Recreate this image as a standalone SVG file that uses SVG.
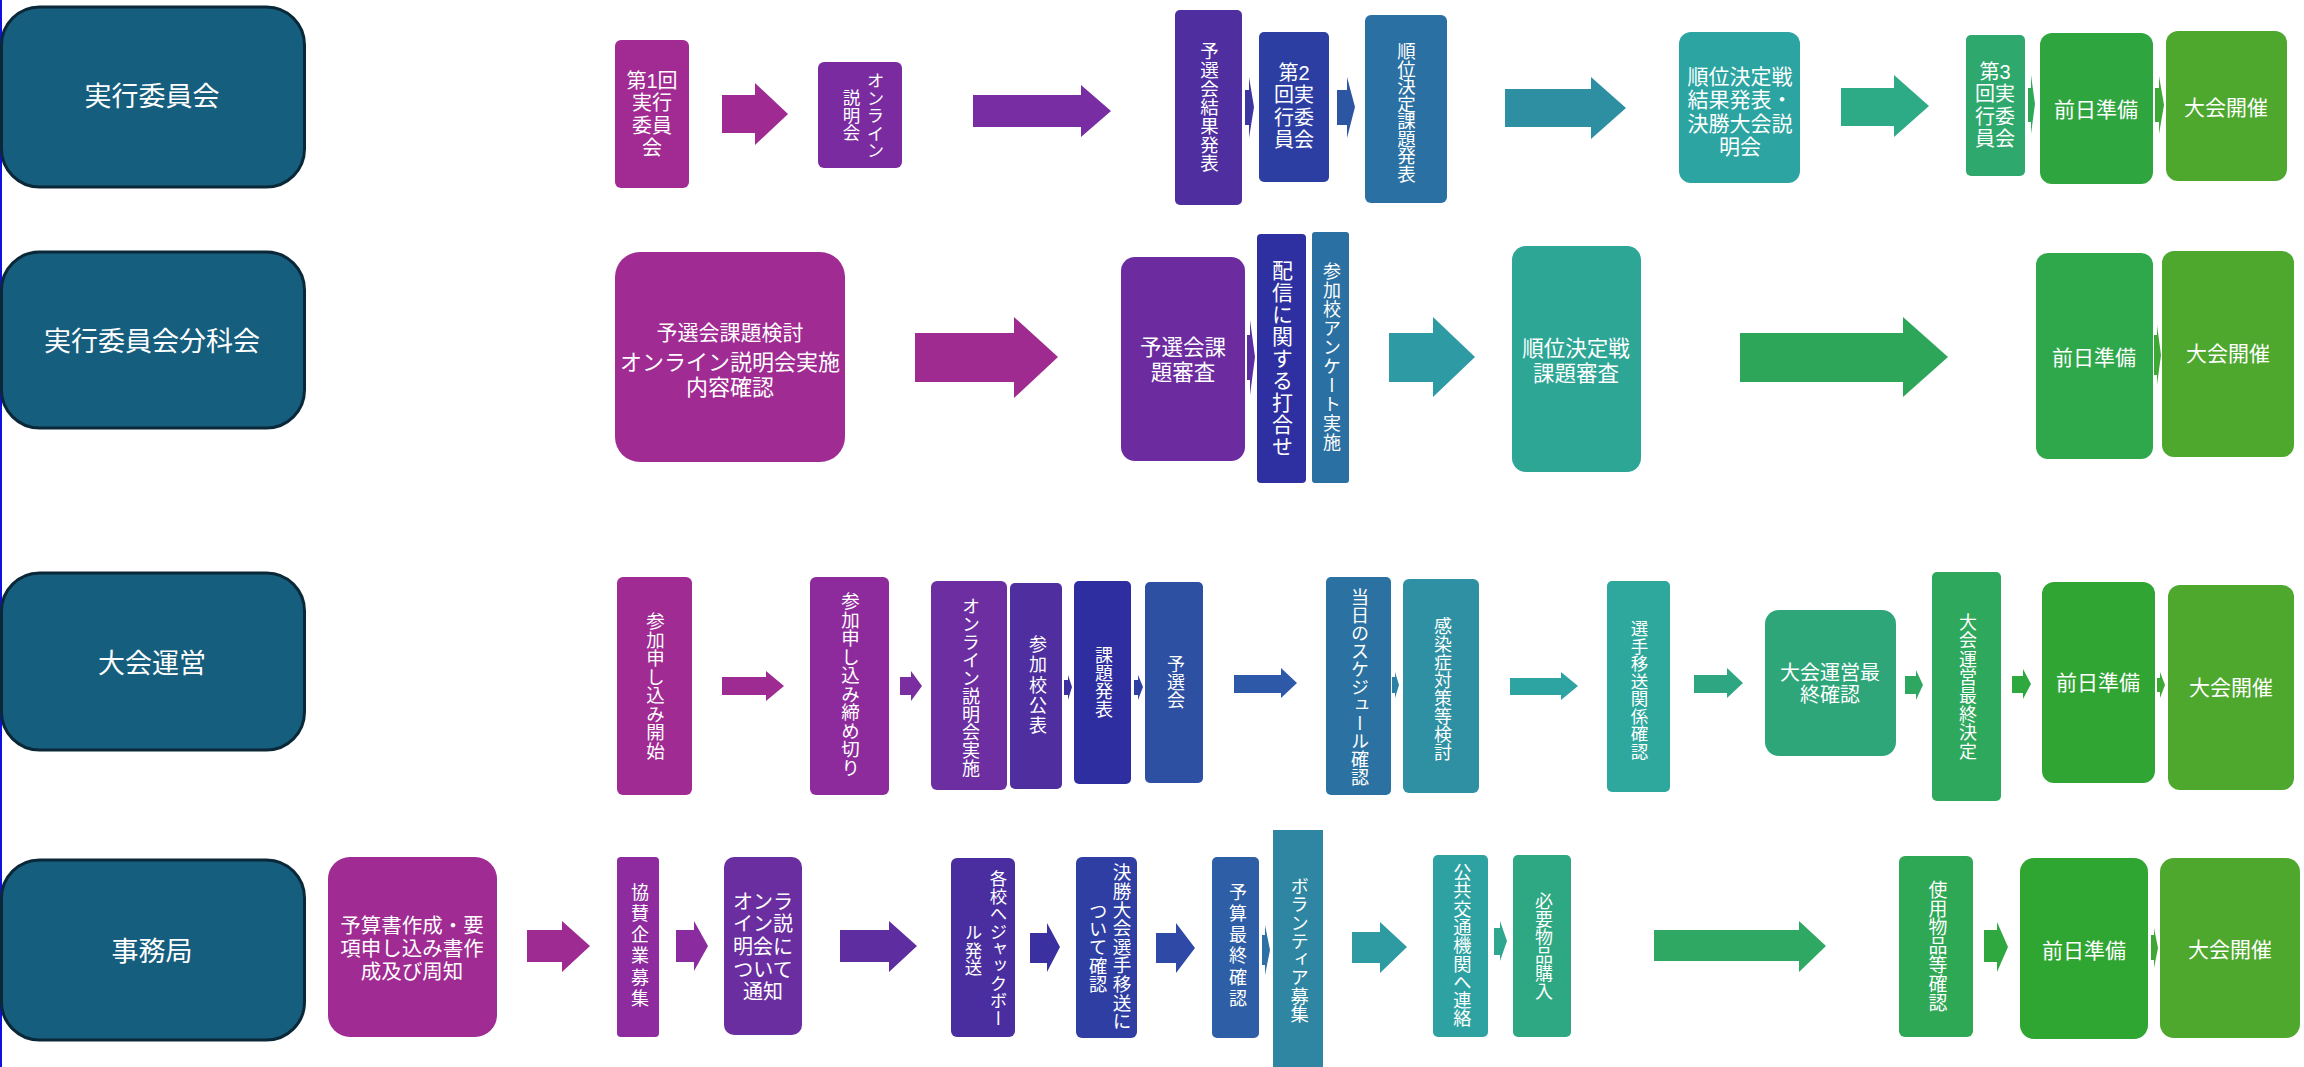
<svg xmlns="http://www.w3.org/2000/svg" width="2304" height="1067" viewBox="0 0 2304 1067">
<style>
.t{fill:#fff;font-family:"Liberation Sans","Noto Sans CJK JP",sans-serif;font-size:20px;text-anchor:middle;dominant-baseline:central}
.v{writing-mode:vertical-rl;text-orientation:upright;text-anchor:start}
.hd rect{fill:#165E7E;stroke:#0B2838;stroke-width:3}
.hd text{font-size:27px}
</style>
<rect width="2304" height="1067" fill="#fff"/>
<line x1="1" y1="0" x2="1" y2="1067" stroke="#1010E0" stroke-width="2"/>

<!-- headers -->
<g id="h1" class="hd"><rect x="1.5" y="7" width="303" height="180" rx="38"/><text class="t" x="152" y="97">実行委員会</text></g>
<g id="h2" class="hd"><rect x="1.5" y="252" width="303" height="176" rx="38"/><text class="t" x="152" y="342">実行委員会分科会</text></g>
<g id="h3" class="hd"><rect x="1.5" y="573" width="303" height="177" rx="38"/><text class="t" x="152" y="664">大会運営</text></g>
<g id="h4" class="hd"><rect x="1.5" y="860" width="303" height="180" rx="38"/><text class="t" x="152" y="952">事務局</text></g>

<!-- connectors -->
<g id="connectors">
<polygon fill="#9F2B92" points="722,95 755,95 755,83 788,114 755,145 755,133 722,133"/>
<polygon fill="#782EA2" points="973,95 1081,95 1081,85 1111,111 1081,137 1081,127 973,127"/>
<polygon fill="#3C36A1" points="1245,90 1249,90 1249,77 1254,107 1249,138 1249,125 1245,125"/>
<polygon fill="#2C56A2" points="1337,90 1347,90 1347,77 1355,107 1347,138 1347,125 1337,125"/>
<polygon fill="#2E8FA3" points="1505,89 1591,89 1591,77 1626,108 1591,139 1591,127 1505,127"/>
<polygon fill="#2DAA86" points="1841,88 1894,88 1894,75 1929,106 1894,137 1894,126 1841,126"/>
<polygon fill="#2FA858" points="2028,88 2031,88 2031,75 2035,104 2031,134 2031,122 2028,122"/>
<polygon fill="#3CA636" points="2155,88 2159,88 2159,76 2164,105 2159,134 2159,122 2155,122"/>

<polygon fill="#A02B90" points="915,333 1014,333 1014,317 1058,357 1014,398 1014,382 915,382"/>
<polygon fill="#5A2EA0" points="1247,335 1250,335 1250,320 1255,357 1250,395 1250,380 1247,380"/>
<polygon fill="#2E9AA4" points="1389,333 1433,333 1433,317 1475,357 1433,397 1433,382 1389,382"/>
<polygon fill="#2EA65A" points="1740,333 1903,333 1903,317 1948,357 1903,397 1903,382 1740,382"/>
<polygon fill="#3EA835" points="2154,335 2157,335 2157,325 2161,355 2157,385 2157,375 2154,375"/>

<polygon fill="#9E2B92" points="722,677 766,677 766,671 784,686 766,701 766,695 722,695"/>
<polygon fill="#7A2EA0" points="900,677 911,677 911,671 922,686 911,701 911,695 900,695"/>
<polygon fill="#3D2EA0" points="1064,680 1068,680 1068,675 1072,687 1068,700 1068,695 1064,695"/>
<polygon fill="#2E40A2" points="1134,680 1138,680 1138,675 1143,687 1138,700 1138,695 1134,695"/>
<polygon fill="#2E58A8" points="1234,675 1281,675 1281,668 1297,683 1281,698 1281,693 1234,693"/>
<polygon fill="#2C80A2" points="1392,677 1395,677 1395,672 1399,685 1395,698 1395,693 1392,693"/>
<polygon fill="#2EA4A2" points="1510,678 1561,678 1561,672 1578,686 1561,700 1561,695 1510,695"/>
<polygon fill="#2EA682" points="1694,675 1727,675 1727,668 1743,683 1727,698 1727,693 1694,693"/>
<polygon fill="#2EA860" points="1905,676 1916,676 1916,670 1923,685 1916,700 1916,694 1905,694"/>
<polygon fill="#30A840" points="2012,676 2023,676 2023,669 2031,684 2023,699 2023,693 2012,693"/>
<polygon fill="#3EA835" points="2157,678 2160,678 2160,672 2165,685 2160,698 2160,692 2157,692"/>

<polygon fill="#9E2B92" points="527,930 562,930 562,921 590,946 562,972 562,962 527,962"/>
<polygon fill="#8A2BA0" points="676,930 694,930 694,921 708,946 694,971 694,962 676,962"/>
<polygon fill="#5E2EA0" points="840,930 889,930 889,921 917,946 889,972 889,962 840,962"/>
<polygon fill="#3A30A0" points="1030,933 1047,933 1047,923 1060,947 1047,972 1047,963 1030,963"/>
<polygon fill="#2E4AA6" points="1156,933 1176,933 1176,923 1195,948 1176,973 1176,963 1156,963"/>
<polygon fill="#2E70A4" points="1262,935 1265,935 1265,925 1270,950 1265,975 1265,965 1262,965"/>
<polygon fill="#2E9AA2" points="1352,932 1380,932 1380,922 1407,947 1380,973 1380,963 1352,963"/>
<polygon fill="#2EA690" points="1494,928 1500,928 1500,921 1507,941 1500,961 1500,955 1494,955"/>
<polygon fill="#2EA862" points="1654,930 1799,930 1799,921 1826,946 1799,972 1799,961 1654,961"/>
<polygon fill="#30A840" points="1984,930 1997,930 1997,922 2008,947 1997,972 1997,962 1984,962"/>
<polygon fill="#3EA835" points="2151,935 2154,935 2154,928 2158,948 2154,968 2154,960 2151,960"/>
</g>

<!-- row 1 -->
<g id="n1"><rect x="615" y="40" width="74" height="148" rx="6" fill="#A12B92"/>
<text class="t"><tspan x="652" y="80.6">第1回</tspan><tspan x="652" y="103.2">実行</tspan><tspan x="652" y="125.8">委員</tspan><tspan x="652" y="148.4">会</tspan></text></g>
<g id="n2"><rect x="818" y="62" width="84" height="106" rx="6" fill="#7B2BA0"/>
<text class="t v" x="874" y="72" style="font-size:17.5px">オンライン</text><text class="t v" x="850" y="89" style="font-size:17.5px">説明会</text></g>
<g id="n3"><rect x="1175" y="10" width="67" height="195" rx="5" fill="#4F2E9F"/>
<text class="t v" x="1208" y="42" style="font-size:18.5px;letter-spacing:0.2px">予選会結果発表</text></g>
<g id="n4"><rect x="1259" y="32" width="70" height="150" rx="5" fill="#2D3EA2"/>
<text class="t"><tspan x="1294" y="72.6">第2</tspan><tspan x="1294" y="95.2">回実</tspan><tspan x="1294" y="117.8">行委</tspan><tspan x="1294" y="140.4">員会</tspan></text></g>
<g id="n5"><rect x="1365" y="15" width="82" height="188" rx="6" fill="#2B70A2"/>
<text class="t v" x="1405" y="42" style="font-size:18.5px;letter-spacing:-1px">順位決定課題発表</text></g>
<g id="n6"><rect x="1679" y="32" width="121" height="151" rx="12" fill="#2CA4A2"/>
<text class="t" style="font-size:21px"><tspan x="1740" y="75.8">順位決定戦</tspan><tspan x="1740" y="99.3">結果発表・</tspan><tspan x="1740" y="122.8">決勝大会説</tspan><tspan x="1740" y="146.3">明会</tspan></text></g>
<g id="n7"><rect x="1966" y="35" width="59" height="141" rx="5" fill="#2EA86C"/>
<text class="t"><tspan x="1995" y="71.6">第3</tspan><tspan x="1995" y="94.2">回実</tspan><tspan x="1995" y="116.8">行委</tspan><tspan x="1995" y="139.4">員会</tspan></text></g>
<g id="n8"><rect x="2040" y="33" width="113" height="151" rx="12" fill="#2FA540"/>
<text class="t" x="2096" y="109" style="font-size:21px">前日準備</text></g>
<g id="n9"><rect x="2166" y="31" width="121" height="150" rx="12" fill="#4EA82E"/>
<text class="t" x="2226" y="107" style="font-size:21px">大会開催</text></g>

<!-- row 2 -->
<g id="m1"><rect x="615" y="252" width="230" height="210" rx="25" fill="#A02B93"/>
<text class="t" x="730" y="332" style="font-size:21px">予選会課題検討</text>
<text class="t" style="font-size:22px"><tspan x="730" y="361.5">オンライン説明会実施</tspan><tspan x="730" y="386.5">内容確認</tspan></text></g>
<g id="m2"><rect x="1121" y="257" width="124" height="204" rx="14" fill="#6C2CA0"/>
<text class="t" style="font-size:21.5px"><tspan x="1183" y="348.4">予選会課</tspan><tspan x="1183" y="372.6">題審査</tspan></text></g>
<g id="m3"><rect x="1257" y="234" width="49" height="249" rx="4" fill="#2E2FA0"/>
<text class="t v" x="1281" y="260" style="font-size:21px;letter-spacing:1px">配信に関する打合せ</text></g>
<g id="m4"><rect x="1312" y="232" width="37" height="251" rx="3" fill="#2B70A2"/>
<text class="t v" x="1330" y="262" style="font-size:18px;letter-spacing:1px">参加校アンケート実施</text></g>
<g id="m5"><rect x="1512" y="246" width="129" height="226" rx="14" fill="#2EA696"/>
<text class="t" style="font-size:21.5px"><tspan x="1576" y="349.4">順位決定戦</tspan><tspan x="1576" y="373.6">課題審査</tspan></text></g>
<g id="m6"><rect x="2036" y="253" width="117" height="206" rx="12" fill="#2FA84C"/>
<text class="t" x="2094" y="357" style="font-size:21px">前日準備</text></g>
<g id="m7"><rect x="2162" y="251" width="132" height="206" rx="12" fill="#4EA82E"/>
<text class="t" x="2228" y="353" style="font-size:21px">大会開催</text></g>

<!-- row 3 -->
<g id="r1"><rect x="617" y="577" width="75" height="218" rx="6" fill="#A02B93"/>
<text class="t v" x="654" y="612" style="font-size:18.5px">参加申し込み開始</text></g>
<g id="r2"><rect x="810" y="577" width="79" height="218" rx="6" fill="#8E2B9C"/>
<text class="t v" x="849" y="592" style="font-size:18.5px">参加申し込み締め切り</text></g>
<g id="r3"><rect x="931" y="581" width="76" height="209" rx="6" fill="#6C2EA0"/>
<text class="t v" x="969" y="597" style="font-size:18px">オンライン説明会実施</text></g>
<g id="r4"><rect x="1010" y="583" width="52" height="206" rx="5" fill="#4F2EA0"/>
<text class="t v" x="1036" y="635" style="font-size:18px;letter-spacing:2.4px">参加校公表</text></g>
<g id="r5"><rect x="1074" y="581" width="57" height="203" rx="5" fill="#2E2EA0"/>
<text class="t v" x="1102" y="646" style="font-size:18px">課題発表</text></g>
<g id="r6"><rect x="1145" y="582" width="58" height="201" rx="5" fill="#2E50A2"/>
<text class="t v" x="1174" y="655" style="font-size:18px">予選会</text></g>
<g id="r7"><rect x="1326" y="577" width="65" height="218" rx="5" fill="#2B72A2"/>
<text class="t v" x="1358" y="588" style="font-size:18px">当日のスケジュール確認</text></g>
<g id="r8"><rect x="1403" y="579" width="76" height="214" rx="6" fill="#2E90A2"/>
<text class="t v" x="1441" y="617" style="font-size:18px">感染症対策等検討</text></g>
<g id="r9"><rect x="1607" y="581" width="63" height="211" rx="5" fill="#2EA89C"/>
<text class="t v" x="1638" y="620" style="font-size:17.5px">選手移送関係確認</text></g>
<g id="r10"><rect x="1765" y="610" width="131" height="146" rx="14" fill="#2EA67A"/>
<text class="t"><tspan x="1830" y="672.7">大会運営最</tspan><tspan x="1830" y="695.3">終確認</tspan></text></g>
<g id="r11"><rect x="1932" y="572" width="69" height="229" rx="5" fill="#2EA85C"/>
<text class="t v" x="1966" y="613" style="font-size:18px;letter-spacing:0.4px">大会運営最終決定</text></g>
<g id="r12"><rect x="2042" y="582" width="113" height="201" rx="12" fill="#31A534"/>
<text class="t" x="2098" y="682" style="font-size:21px">前日準備</text></g>
<g id="r13"><rect x="2168" y="585" width="126" height="205" rx="12" fill="#4EA82E"/>
<text class="t" x="2231" y="687" style="font-size:21px">大会開催</text></g>

<!-- row 4 -->
<g id="s1"><rect x="328" y="857" width="169" height="180" rx="22" fill="#A02B93"/>
<text class="t" style="font-size:20.5px"><tspan x="412" y="924.8">予算書作成・要</tspan><tspan x="412" y="947.7">項申し込み書作</tspan><tspan x="412" y="970.6">成及び周知</tspan></text></g>
<g id="s2"><rect x="617" y="857" width="42" height="180" rx="4" fill="#8E2B9E"/>
<text class="t v" x="638" y="883" style="font-size:18px;letter-spacing:3.2px">協賛企業募集</text></g>
<g id="s3"><rect x="724" y="857" width="78" height="178" rx="10" fill="#6A2EA0"/>
<text class="t"><tspan x="763" y="901.8">オンラ</tspan><tspan x="763" y="924.4">イン説</tspan><tspan x="763" y="947">明会に</tspan><tspan x="763" y="969.6">ついて</tspan><tspan x="763" y="992.2">通知</tspan></text></g>
<g id="s4"><rect x="951" y="858" width="64" height="179" rx="6" fill="#4A2EA0"/>
<text class="t v" x="997" y="870" style="font-size:17.4px">各校へジャックボー</text><text class="t v" x="972" y="924" style="font-size:17.4px">ル発送</text></g>
<g id="s5"><rect x="1076" y="857" width="61" height="181" rx="6" fill="#2E3EA2"/>
<text class="t v" x="1120" y="863" style="font-size:18.6px">決勝大会選手移送に</text><text class="t v" x="1096" y="902" style="font-size:18.2px">ついて確認</text></g>
<g id="s6"><rect x="1212" y="857" width="47" height="181" rx="5" fill="#2E5EA6"/>
<text class="t v" x="1236" y="883" style="font-size:18px;letter-spacing:3.2px">予算最終確認</text></g>
<g id="s7"><rect x="1273" y="830" width="50" height="237" fill="#2E86A2"/>
<text class="t v" x="1298" y="877" style="font-size:18.25px">ボランティア募集</text></g>
<g id="s8"><rect x="1433" y="855" width="55" height="182" rx="5" fill="#2EA2A2"/>
<text class="t v" x="1461" y="863" style="font-size:18.3px">公共交通機関へ連絡</text></g>
<g id="s9"><rect x="1513" y="855" width="58" height="182" rx="5" fill="#2EA882"/>
<text class="t v" x="1542" y="892" style="font-size:18px">必要物品購入</text></g>
<g id="s10"><rect x="1899" y="856" width="74" height="181" rx="6" fill="#2EA855"/>
<text class="t v" x="1936" y="880" style="font-size:18.9px">使用物品等確認</text></g>
<g id="s11"><rect x="2020" y="858" width="128" height="181" rx="14" fill="#2FA532"/>
<text class="t" x="2084" y="950" style="font-size:21px">前日準備</text></g>
<g id="s12"><rect x="2160" y="858" width="140" height="180" rx="14" fill="#4EA82E"/>
<text class="t" x="2230" y="949" style="font-size:21px">大会開催</text></g>
</svg>
